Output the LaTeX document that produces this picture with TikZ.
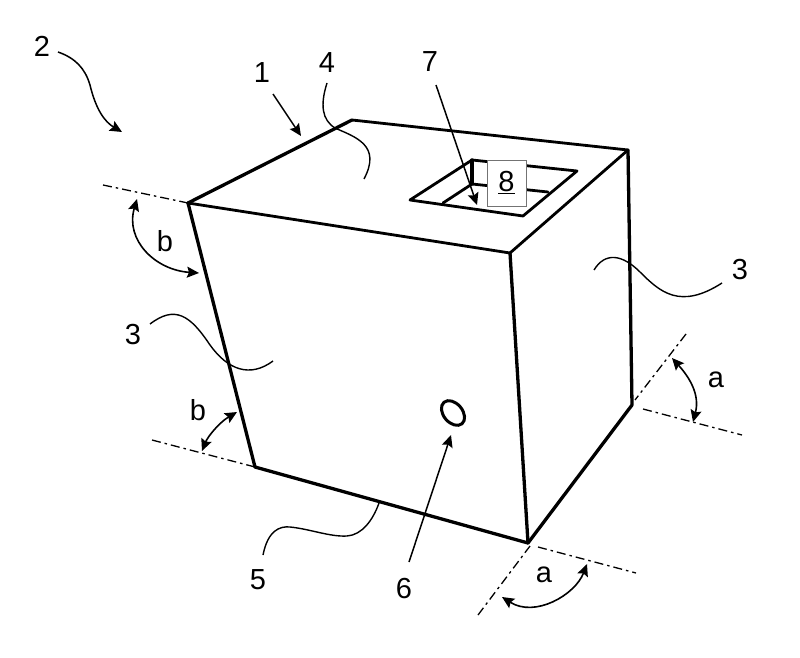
\documentclass[tikz,border=0pt]{standalone}
\usepackage{fontspec}
\setmainfont{Liberation Sans}
\usetikzlibrary{arrows.meta,shapes.geometric}
\tikzset{
 edge/.style={line width=3.3pt,line join=round,line cap=round},
 thinedge/.style={line width=2.8pt,line join=round,line cap=round},
 axis/.style={line width=1.3pt,dash pattern=on 9pt off 4pt on 2.5pt off 4pt},
 lead/.style={line width=1.4pt},
 tip/.style={-{Stealth[length=12pt,width=11pt,inset=2pt]},line width=1.5pt},
 both/.style={{Stealth[length=12pt,width=11pt,inset=2pt]}-{Stealth[length=12pt,width=11pt,inset=2pt]},line width=1.6pt},
 lab/.style={font=\fontsize{29}{29}\selectfont,inner sep=0pt},
}
\begin{document}
\begin{tikzpicture}[x=1pt,y=-1pt]
\useasboundingbox (0,0) rectangle (800,658);
% box corners
\coordinate (A) at (188,203);
\coordinate (B) at (352,120);
\coordinate (C) at (628,150);
\coordinate (D) at (510,253);
\coordinate (E) at (255,467);
\coordinate (F) at (528,543);
\coordinate (G) at (632,405);
\draw[edge] (A)--(B);
\draw[thinedge] (B)--(C);
\draw[thinedge] (C)--(D);
\draw[thinedge] (A)--(D);
\draw[edge] (A)--(E)--(F)--(G)--(C);
\draw[edge] (D)--(F);
% window
\coordinate (W1) at (410,200);
\coordinate (W2) at (472,160);
\coordinate (W3) at (577,171);
\coordinate (W4) at (523,216);
\coordinate (W5) at (443,203);
\coordinate (W6) at (472,184);
\coordinate (W7) at (548,192);
\draw[thinedge] (W1)--(W2)--(W3)--(W4)--cycle;
\draw[thinedge] (W5)--(W6)--(W7);
\draw[edge] (W2)--(W6);
\node[draw=black!55,line width=.7pt,fill=white,minimum width=39pt,minimum height=46pt,inner sep=0pt,font=\fontsize{29}{29}\selectfont] (n8) at (506.5,183) {\underline{8}};
% hole
\node[draw,line width=3pt,ellipse,minimum width=19pt,minimum height=28pt,inner sep=0pt,rotate=40] (hole) at (453,413) {};
% dash-dot axes
\coordinate (Ab) at (103,185);
\coordinate (Eb) at (152,440);
\coordinate (Ga) at (686,334);
\coordinate (Ga1) at (635,400);
\coordinate (Gb) at (742,435);
\coordinate (Gb1) at (643,409);
\coordinate (Fa) at (478,615);
\coordinate (Fa1) at (530,546);
\coordinate (Fb) at (636,573);
\coordinate (Fb1) at (538,547);
\draw[axis] (Ab)--(A);
\draw[axis] (Eb)--(E);
\draw[axis] (Ga)--(Ga1);
\draw[axis] (Gb1)--(Gb);
\draw[axis] (Fa)--(Fa1);
\draw[axis] (Fb1)--(Fb);
% angle arcs
\coordinate (b1) at (137,199);
\coordinate (b2) at (199,273);
\coordinate (b3) at (237,412);
\coordinate (b4) at (202,451);
\coordinate (a1) at (672,358);
\coordinate (a2) at (693,422);
\coordinate (a3) at (587,564);
\coordinate (a4) at (502,597);
\draw[both] (b1) .. controls (125,240) and (155,270) .. (b2);
\draw[both] (b3) .. controls (220,422) and (208,436) .. (b4);
\draw[both] (a1) .. controls (690,378) and (700,395) .. (a2);
\draw[both] (a3) .. controls (575,595) and (535,618) .. (a4);
% labels
\node[lab] (l2) at (42,46) {2};
\node[lab] (l1) at (262,73) {1};
\node[lab] (l4) at (327,63) {4};
\node[lab] (l7) at (430,62) {7};
\node[lab] (l3r) at (740,270) {3};
\node[lab] (l3l) at (133,335) {3};
\node[lab] (l5) at (258,580) {5};
\node[lab] (l6) at (404,589) {6};
\node[lab] (lb1) at (165,241) {b};
\node[lab] (lb2) at (198,410) {b};
\node[lab] (la1) at (716,380) {a};
\node[lab] (la2) at (544,575) {a};
% leaders
\coordinate (s2) at (58,52);
\coordinate (e2) at (122,132);
\draw[tip] (s2) .. controls (75,58) and (85,68) .. (90,85) .. controls (96,110) and (105,122) .. (e2);
\coordinate (s1) at (273,94);
\coordinate (e1) at (301,136);
\draw[tip] (s1)--(e1);
\coordinate (s4) at (327,83);
\coordinate (e4) at (364,179);
\draw[lead] (s4) .. controls (320,105) and (322,120) .. (335,128) .. controls (355,137) and (382,145) .. (e4);
\coordinate (s7) at (436,85);
\coordinate (e7) at (477,205);
\draw[tip] (s7)--(e7);
\coordinate (s3r) at (722,283);
\coordinate (e3r) at (594,270);
\draw[lead] (s3r) .. controls (680,310) and (660,292) .. (640,272) .. controls (622,254) and (605,252) .. (e3r);
\coordinate (s3l) at (150,324);
\coordinate (e3l) at (273,361);
\draw[lead] (s3l) .. controls (175,305) and (190,315) .. (210,345) .. controls (228,370) and (250,378) .. (e3l);
\coordinate (s5) at (263,555);
\coordinate (e5) at (379,503);
\draw[lead] (s5) .. controls (268,530) and (280,526) .. (290,527) .. controls (310,529) and (330,537) .. (347,536) .. controls (362,535) and (373,520) .. (e5);
\coordinate (s6) at (409,562);
\coordinate (e6) at (451,435);
\draw[tip] (s6)--(e6);
\end{tikzpicture}
\end{document}
